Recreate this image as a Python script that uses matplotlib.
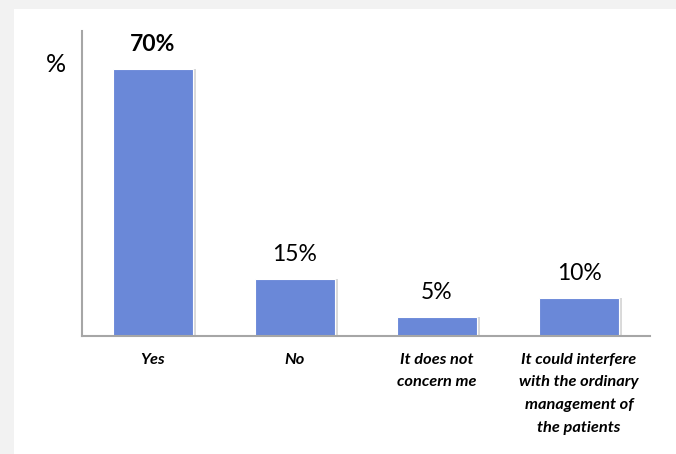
import matplotlib.pyplot as plt
from matplotlib.patches import Rectangle

# Data
categories = ["Yes", "No", "It does not\nconcern me",
              "It could interfere\nwith the ordinary\nmanagement of\nthe patients"]
values = [70, 15, 5, 10]
labels = ["70%", "15%", "5%", "10%"]

plt.rcParams['font.family'] = ['Lato', 'DejaVu Sans']

fig = plt.figure(figsize=(6.76, 4.54), dpi=100, facecolor="#f2f2f2")
# white panel (drawn below the axes)
fig.patches.append(Rectangle((14 / 676, 0), 1, 1 - 9 / 454, transform=fig.transFigure,
                             facecolor="white", edgecolor="none", zorder=-1))

ax = fig.add_axes([82 / 676, 1 - 336 / 454, (650 - 82) / 676, (336 - 31) / 454])
ax.set_facecolor("white")

x = range(len(values))
# soft shadow behind bars
ax.bar([i + 0.025 for i in x], values, width=0.56, color="#d9d9d9", zorder=1)
bars = ax.bar(x, values, width=0.56, color="#6a88d8", edgecolor="white", linewidth=0.8, zorder=2)

for i, (b, lab) in enumerate(zip(bars, labels)):
    ax.annotate(lab, (b.get_x() + b.get_width() / 2, b.get_height()),
                xytext=(0, 10), textcoords="offset points", ha="center", va="bottom",
                fontsize=16.5, fontweight="bold" if i == 0 else "normal", color="black")

ax.set_xlim(-0.5, len(values) - 0.5)
ax.set_ylim(0, 80)
ax.set_xticks(list(x))
ax.set_xticklabels(categories, fontsize=11.8, fontweight="bold", fontstyle="italic",
                   linespacing=1.8, va="top")
ax.tick_params(axis="x", length=0, pad=12)
ax.set_yticks([])

for s in ["top", "right"]:
    ax.spines[s].set_visible(False)
for s in ["left", "bottom"]:
    ax.spines[s].set_color("#a6a6a6")
    ax.spines[s].set_linewidth(1.5)

fig.text(56 / 676, 1 - 64 / 454, "%", fontsize=18, ha="center", va="center")

fig.savefig("out.png", dpi=100, facecolor=fig.get_facecolor())
